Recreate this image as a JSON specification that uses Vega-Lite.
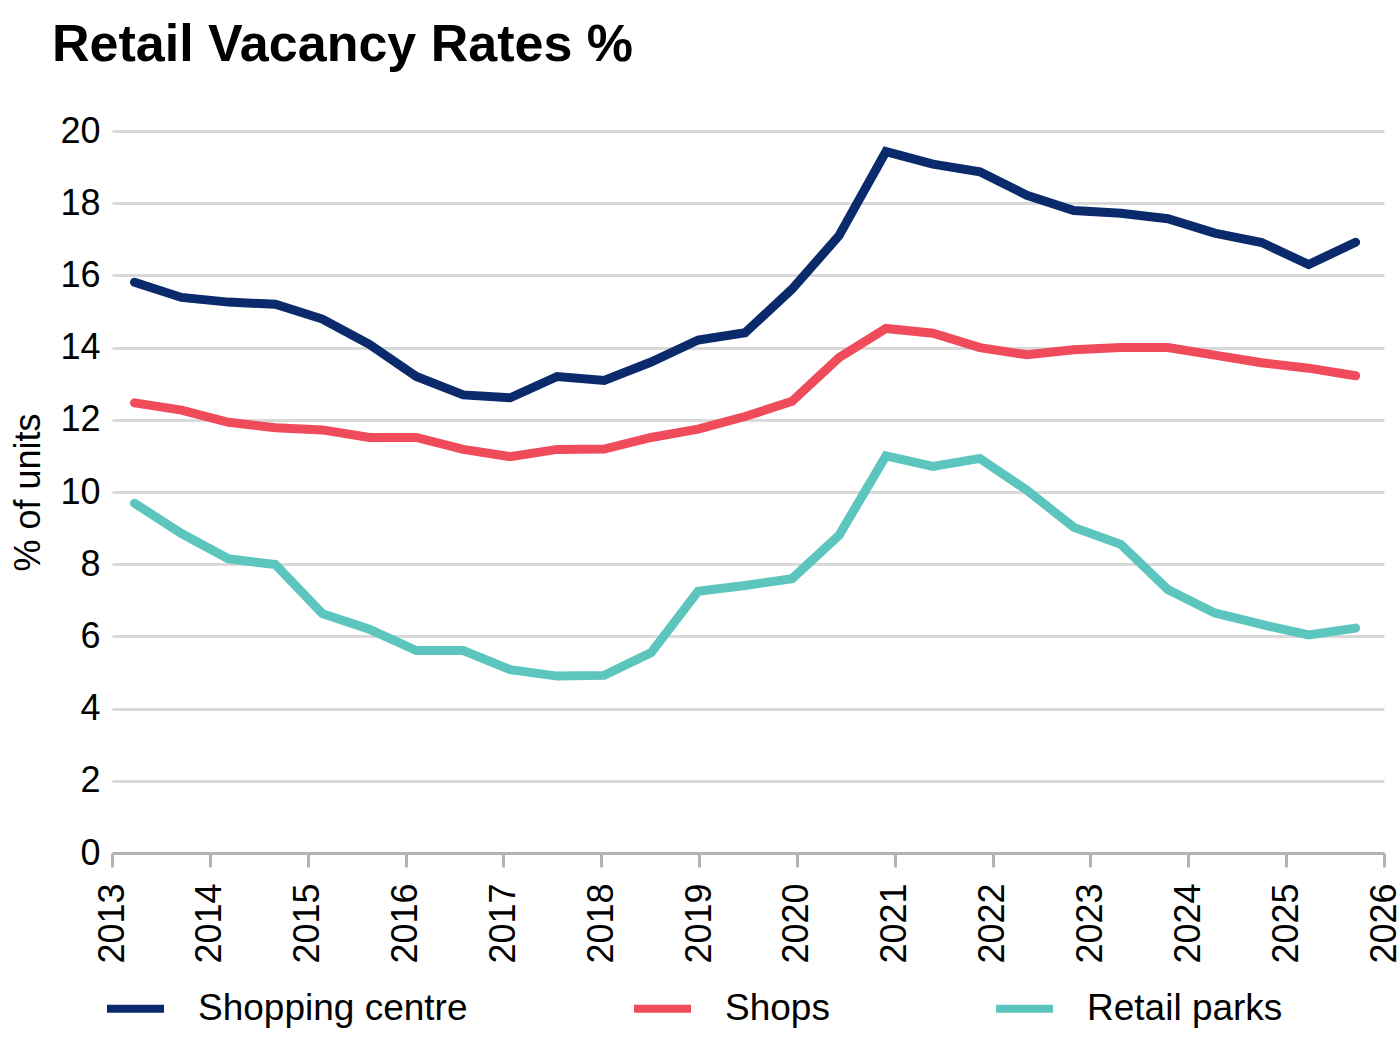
{
  "$schema": "https://vega.github.io/schema/vega-lite/v6.json",
  "width": 1272,
  "height": 722,
  "autosize": {"type": "none"},
  "padding": {"left": 112, "top": 131, "right": 16, "bottom": 194},
  "background": "white",
  "config": {
    "view": {"stroke": null},
    "font": "Liberation Sans"
  },
  "title": {
    "text": "Retail Vacancy Rates %",
    "anchor": "start",
    "frame": "group",
    "font": "Liberation Sans",
    "fontSize": 52,
    "fontWeight": "bold",
    "color": "#000000",
    "baseline": "alphabetic",
    "dx": -60,
    "offset": 0
  },
  "data": {
    "values": [
      {"t": 2013.23, "series": "Shopping centre", "v": 15.81},
      {"t": 2013.71, "series": "Shopping centre", "v": 15.39},
      {"t": 2014.19, "series": "Shopping centre", "v": 15.26},
      {"t": 2014.67, "series": "Shopping centre", "v": 15.20},
      {"t": 2015.15, "series": "Shopping centre", "v": 14.79},
      {"t": 2015.63, "series": "Shopping centre", "v": 14.09},
      {"t": 2016.11, "series": "Shopping centre", "v": 13.20},
      {"t": 2016.59, "series": "Shopping centre", "v": 12.69},
      {"t": 2017.07, "series": "Shopping centre", "v": 12.61},
      {"t": 2017.55, "series": "Shopping centre", "v": 13.20},
      {"t": 2018.03, "series": "Shopping centre", "v": 13.09},
      {"t": 2018.51, "series": "Shopping centre", "v": 13.60},
      {"t": 2018.99, "series": "Shopping centre", "v": 14.21},
      {"t": 2019.47, "series": "Shopping centre", "v": 14.41},
      {"t": 2019.95, "series": "Shopping centre", "v": 15.62},
      {"t": 2020.43, "series": "Shopping centre", "v": 17.10},
      {"t": 2020.91, "series": "Shopping centre", "v": 19.43},
      {"t": 2021.39, "series": "Shopping centre", "v": 19.08},
      {"t": 2021.87, "series": "Shopping centre", "v": 18.87},
      {"t": 2022.35, "series": "Shopping centre", "v": 18.22},
      {"t": 2022.83, "series": "Shopping centre", "v": 17.80},
      {"t": 2023.31, "series": "Shopping centre", "v": 17.72},
      {"t": 2023.79, "series": "Shopping centre", "v": 17.57},
      {"t": 2024.27, "series": "Shopping centre", "v": 17.17},
      {"t": 2024.75, "series": "Shopping centre", "v": 16.91},
      {"t": 2025.23, "series": "Shopping centre", "v": 16.30},
      {"t": 2025.71, "series": "Shopping centre", "v": 16.92},

      {"t": 2013.23, "series": "Shops", "v": 12.47},
      {"t": 2013.71, "series": "Shops", "v": 12.27},
      {"t": 2014.19, "series": "Shops", "v": 11.93},
      {"t": 2014.67, "series": "Shops", "v": 11.78},
      {"t": 2015.15, "series": "Shops", "v": 11.72},
      {"t": 2015.63, "series": "Shops", "v": 11.51},
      {"t": 2016.11, "series": "Shops", "v": 11.51},
      {"t": 2016.59, "series": "Shops", "v": 11.18},
      {"t": 2017.07, "series": "Shops", "v": 10.98},
      {"t": 2017.55, "series": "Shops", "v": 11.18},
      {"t": 2018.03, "series": "Shops", "v": 11.19},
      {"t": 2018.51, "series": "Shops", "v": 11.51},
      {"t": 2018.99, "series": "Shops", "v": 11.74},
      {"t": 2019.47, "series": "Shops", "v": 12.09},
      {"t": 2019.95, "series": "Shops", "v": 12.51},
      {"t": 2020.43, "series": "Shops", "v": 13.72},
      {"t": 2020.91, "series": "Shops", "v": 14.53},
      {"t": 2021.39, "series": "Shops", "v": 14.40},
      {"t": 2021.87, "series": "Shops", "v": 14.00},
      {"t": 2022.35, "series": "Shops", "v": 13.80},
      {"t": 2022.83, "series": "Shops", "v": 13.94},
      {"t": 2023.31, "series": "Shops", "v": 14.00},
      {"t": 2023.79, "series": "Shops", "v": 14.00},
      {"t": 2024.27, "series": "Shops", "v": 13.79},
      {"t": 2024.75, "series": "Shops", "v": 13.58},
      {"t": 2025.23, "series": "Shops", "v": 13.43},
      {"t": 2025.71, "series": "Shops", "v": 13.22},

      {"t": 2013.23, "series": "Retail parks", "v": 9.69},
      {"t": 2013.71, "series": "Retail parks", "v": 8.85},
      {"t": 2014.19, "series": "Retail parks", "v": 8.15},
      {"t": 2014.67, "series": "Retail parks", "v": 7.99},
      {"t": 2015.15, "series": "Retail parks", "v": 6.63},
      {"t": 2015.63, "series": "Retail parks", "v": 6.20},
      {"t": 2016.11, "series": "Retail parks", "v": 5.61},
      {"t": 2016.59, "series": "Retail parks", "v": 5.61},
      {"t": 2017.07, "series": "Retail parks", "v": 5.08},
      {"t": 2017.55, "series": "Retail parks", "v": 4.90},
      {"t": 2018.03, "series": "Retail parks", "v": 4.92},
      {"t": 2018.51, "series": "Retail parks", "v": 5.55},
      {"t": 2018.99, "series": "Retail parks", "v": 7.25},
      {"t": 2019.47, "series": "Retail parks", "v": 7.41},
      {"t": 2019.95, "series": "Retail parks", "v": 7.60},
      {"t": 2020.43, "series": "Retail parks", "v": 8.80},
      {"t": 2020.91, "series": "Retail parks", "v": 11.00},
      {"t": 2021.39, "series": "Retail parks", "v": 10.71},
      {"t": 2021.87, "series": "Retail parks", "v": 10.93},
      {"t": 2022.35, "series": "Retail parks", "v": 10.05},
      {"t": 2022.83, "series": "Retail parks", "v": 9.02},
      {"t": 2023.31, "series": "Retail parks", "v": 8.55},
      {"t": 2023.79, "series": "Retail parks", "v": 7.30},
      {"t": 2024.27, "series": "Retail parks", "v": 6.65},
      {"t": 2024.75, "series": "Retail parks", "v": 6.33},
      {"t": 2025.23, "series": "Retail parks", "v": 6.04},
      {"t": 2025.71, "series": "Retail parks", "v": 6.23}
    ]
  },
  "mark": {"type": "line", "strokeWidth": 9, "strokeCap": "round"},
  "encoding": {
    "x": {
      "field": "t",
      "type": "quantitative",
      "scale": {"domain": [2013, 2026], "nice": false, "zero": false},
      "axis": {
        "title": null,
        "values": [2013, 2014, 2015, 2016, 2017, 2018, 2019, 2020, 2021, 2022, 2023, 2024, 2025, 2026],
        "format": "d",
        "grid": false,
        "domainColor": "#b3b3b3",
        "domainWidth": 3,
        "tickColor": "#b3b3b3",
        "tickWidth": 3,
        "tickSize": 14,
        "labelAngle": 270,
        "labelAlign": "right",
        "labelBaseline": "middle",
        "labelPadding": 16,
        "labelFontSize": 36,
        "labelColor": "#000000",
        "labelFont": "Liberation Sans",
        "labelOverlap": false,
        "labelFlush": false
      }
    },
    "y": {
      "field": "v",
      "type": "quantitative",
      "scale": {"domain": [0, 20], "nice": false},
      "axis": {
        "title": "% of units",
        "titleFontSize": 36,
        "titleFontWeight": "normal",
        "titleFont": "Liberation Sans",
        "titleColor": "#000000",
        "titlePadding": 12,
        "values": [0, 2, 4, 6, 8, 10, 12, 14, 16, 18, 20],
        "domain": false,
        "ticks": false,
        "gridColor": "#d9d9d9",
        "gridWidth": 3,
        "labelPadding": 12,
        "labelFontSize": 36,
        "labelColor": "#000000",
        "labelFont": "Liberation Sans"
      }
    },
    "color": {
      "field": "series",
      "type": "nominal",
      "scale": {
        "domain": ["Shopping centre", "Shops", "Retail parks"],
        "range": ["#0b2a6c", "#ef4b5b", "#5cc5be"]
      },
      "legend": {
        "title": null,
        "orient": "none",
        "direction": "horizontal",
        "legendX": -9,
        "legendY": 845,
        "symbolType": "stroke",
        "symbolSize": 3249,
        "symbolStrokeWidth": 8,
        "labelFontSize": 37,
        "labelFont": "Liberation Sans",
        "labelColor": "#000000",
        "labelOffset": 30,
        "columnPadding": 150,
        "labelLimit": 0
      }
    }
  }
}
